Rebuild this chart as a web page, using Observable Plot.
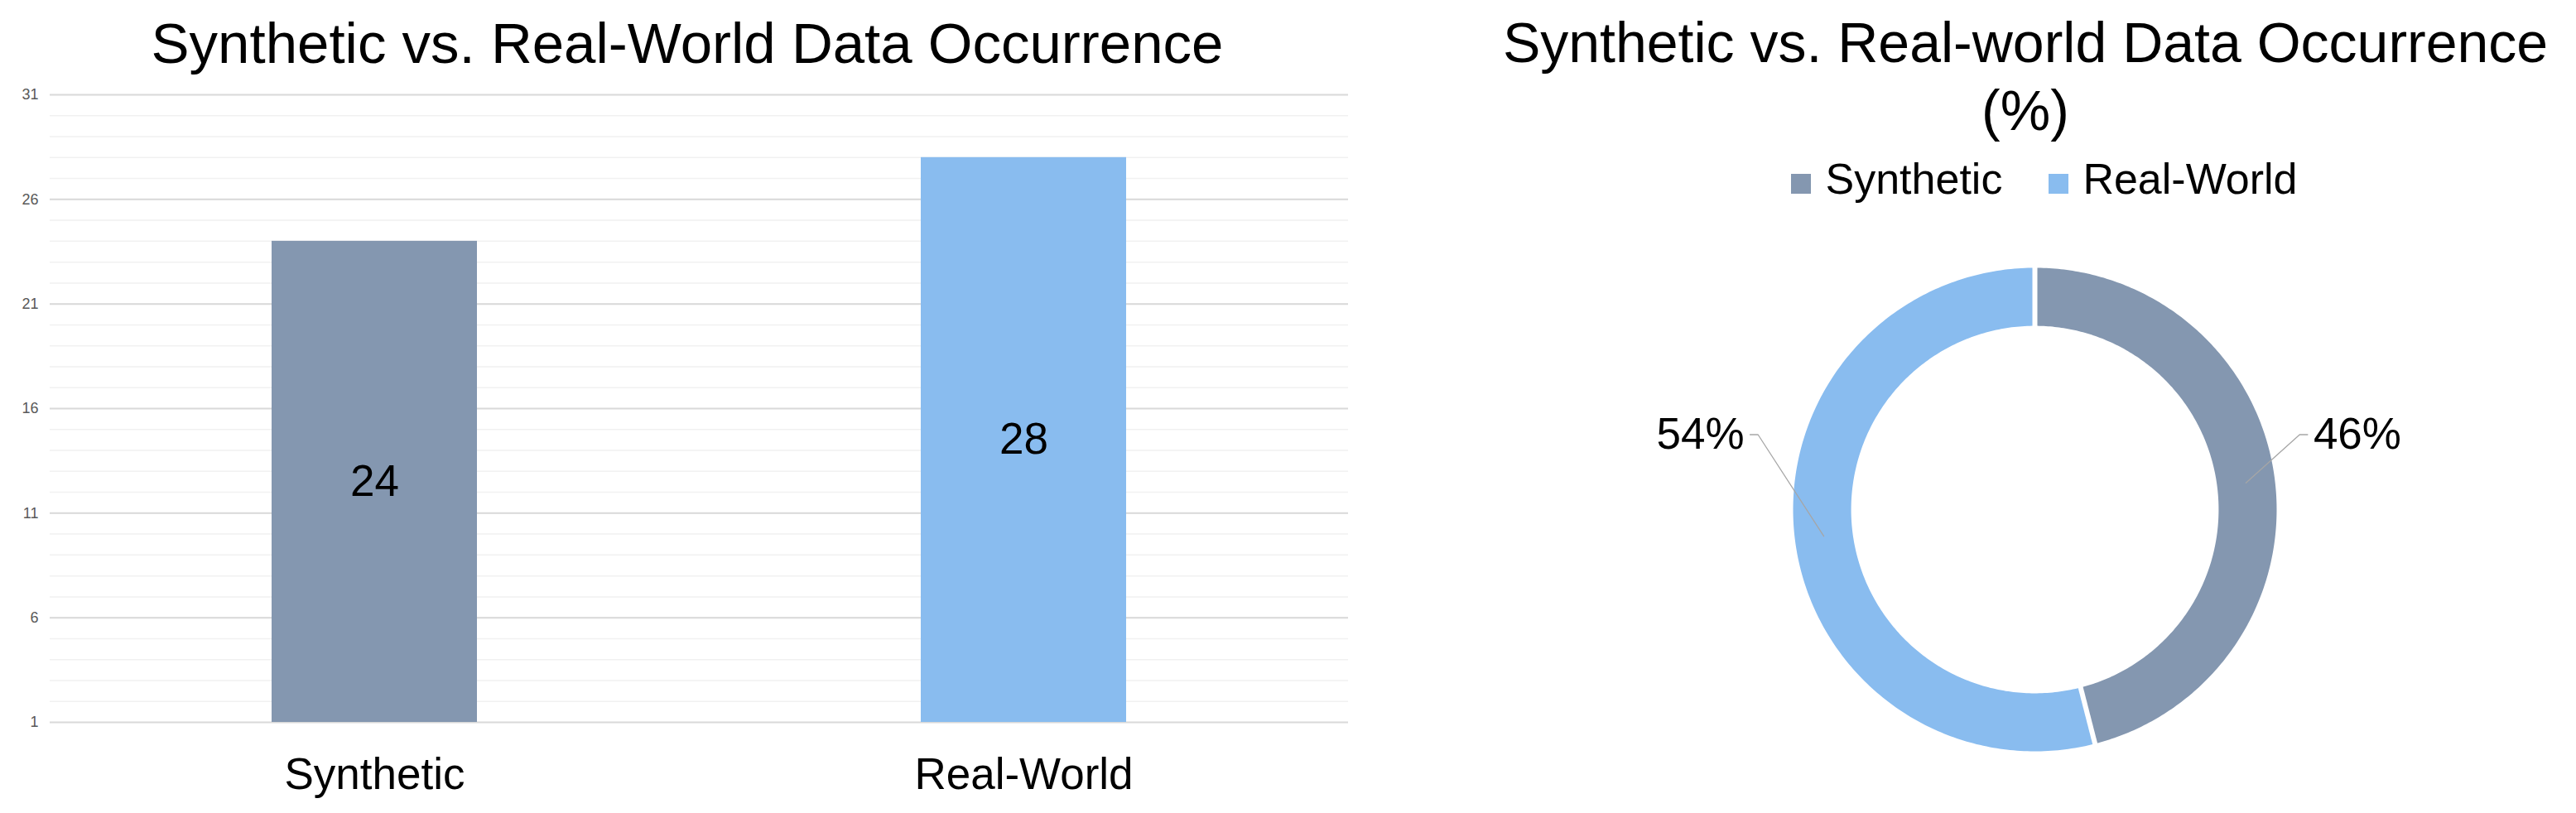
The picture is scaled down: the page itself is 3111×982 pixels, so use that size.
<!DOCTYPE html>
<html>
<head>
<meta charset="utf-8">
<script src="https://cdn.jsdelivr.net/npm/d3@7"></script>
<script src="https://cdn.jsdelivr.net/npm/@observablehq/plot@0.6"></script>
<style>
html, body { margin: 0; padding: 0; background: #fff; }
body { width: 3111px; height: 982px; position: relative; overflow: hidden; font-family: "Liberation Sans", Arial, sans-serif; }
.abs { position: absolute; }
.title { font-size: 68px; color: #000; white-space: pre; text-align: center; }
#legend { display: flex; justify-content: center; align-items: baseline; font-size: 52px; line-height: 52px; color: #000; white-space: pre; }
#legend .item { display: inline-block; }
#legend .item + .item { margin-left: 56px; }
#legend .sw { display: inline-block; width: 24px; height: 24px; margin-right: 17px; vertical-align: baseline; }
</style>
</head>
<body>
<div id="bar" class="abs" style="left:0;top:0;width:1660px;height:982px"></div>
<div id="donut" class="abs" style="left:1957px;top:265px;width:1000px;height:700px"></div>
<div class="abs title" style="left:0;top:18px;width:1660px;line-height:69px;font-size:69px">Synthetic vs. Real-World Data Occurrence</div>
<div class="abs title" style="left:1646px;top:10px;width:1600px;line-height:82px">Synthetic vs. Real-world Data Occurrence<br>(%)</div>
<div id="legend" class="abs" style="left:1869px;top:190px;width:1200px"></div>
<script>
// ---- data ----
const categories = ["Synthetic", "Real-World"];
const counts = [24, 28];
const shares = [46, 54];
const yTicks = [1, 6, 11, 16, 21, 26, 31];
const colors = ["#8497B0", "#89BCEF"];

const FONT = "'Liberation Sans', Arial, sans-serif";

// ---- bar chart ----
const bars = categories.map((c, i) => ({category: c, count: counts[i]}));
const yMin = yTicks[0], yMax = yTicks[yTicks.length - 1];
const minor = d3.range(yMin, yMax + 1);

const barPlot = Plot.plot({
  width: 1660, height: 982,
  marginTop: 114, marginBottom: 110, marginLeft: 60, marginRight: 32,
  style: {fontFamily: FONT, background: "transparent", overflow: "visible"},
  x: {domain: categories, paddingInner: 0.684, paddingOuter: 0.342},
  y: {domain: [yMin, yMax]},
  color: {domain: categories, range: colors},
  marks: [
    Plot.ruleY(minor, {stroke: "#f1f1f1", strokeWidth: 1.5}),
    Plot.ruleY(yTicks, {stroke: "#d9d9d9", strokeWidth: 2}),
    Plot.barY(bars, {x: "category", y1: yMin, y2: "count", fill: "category"}),
    Plot.text(bars, {x: "category", y: d => (yMin + d.count) / 2, text: d => String(d.count), fontSize: 53, fill: "black"}),
    Plot.axisX({tickSize: 0, tickPadding: 43, fontSize: 53, color: "black", label: null}),
    Plot.axisY({ticks: yTicks, tickSize: 0, tickPadding: 14, fontSize: 18, color: "#595959", label: null})
  ]
});
document.getElementById("bar").append(barPlot);

// ---- donut chart ----
const TAU = 2 * Math.PI;
const total = d3.sum(shares);
let acc = 0;
const slices = categories.map((c, i) => {
  const a0 = acc / total * TAU;
  acc += shares[i];
  const a1 = acc / total * TAU;
  return {category: c, share: shares[i], a0, a1, mid: (a0 + a1) / 2, color: colors[i]};
});
const R0 = 0.76, R1 = 1, RM = (R0 + R1) / 2;
const px = (r, a) => r * Math.sin(a);
const py = (r, a) => r * Math.cos(a);

function ring(s) {
  const n = 240, pts = [];
  for (let k = 0; k <= n; k++) { const a = s.a0 + (s.a1 - s.a0) * k / n; pts.push({x: px(R1, a), y: py(R1, a)}); }
  for (let k = n; k >= 0; k--) { const a = s.a0 + (s.a1 - s.a0) * k / n; pts.push({x: px(R0, a), y: py(R0, a)}); }
  return pts;
}

// leader layout: anchor on mid ring, elbow outside, short horizontal tail
const ELBOW_X = 1.12, ELBOW_Y = 0.31, TAIL = 0.033, GAP = 0.024, SHIFT = -0.025;
const leaders = [];
slices.forEach(s => {
  const side = Math.sin(s.mid) >= 0 ? 1 : -1;
  s.side = side;
  s.lx = side * (ELBOW_X + TAIL + GAP) + SHIFT;
  leaders.push({category: s.category, x: px(RM, s.mid), y: py(RM, s.mid)});
  leaders.push({category: s.category, x: side * ELBOW_X + SHIFT, y: ELBOW_Y});
  leaders.push({category: s.category, x: side * (ELBOW_X + TAIL) + SHIFT, y: ELBOW_Y});
});

const K = 292;
const donutPlot = Plot.plot({
  width: 1000, height: 700, margin: 0,
  x: {domain: [-500 / K, 500 / K], axis: null},
  y: {domain: [-350 / K, 350 / K], axis: null},
  style: {fontFamily: FONT, background: "transparent", overflow: "visible"},
  marks: [
    ...slices.map(s => Plot.line(ring(s), {x: "x", y: "y", fill: s.color, stroke: "none", curve: "linear-closed"})),
    Plot.link(slices, {
      x1: s => px(R0 - 0.02, s.a0), y1: s => py(R0 - 0.02, s.a0),
      x2: s => px(R1 + 0.03, s.a0), y2: s => py(R1 + 0.03, s.a0),
      stroke: "white", strokeWidth: 6
    }),
    Plot.line(leaders, {x: "x", y: "y", z: "category", stroke: "#a6a6a6", strokeWidth: 1.3}),
    Plot.text(slices.filter(s => s.side > 0), {x: "lx", y: () => ELBOW_Y, text: s => s.share + "%", textAnchor: "start", fontSize: 53, fill: "black"}),
    Plot.text(slices.filter(s => s.side < 0), {x: "lx", y: () => ELBOW_Y, text: s => s.share + "%", textAnchor: "end", fontSize: 53, fill: "black"})
  ]
});
document.getElementById("donut").append(donutPlot);

// ---- legend ----
const legend = document.getElementById("legend");
categories.forEach((c, i) => {
  const item = document.createElement("span");
  item.className = "item";
  const sw = document.createElement("span");
  sw.className = "sw";
  sw.style.background = colors[i];
  item.append(sw, document.createTextNode(c));
  legend.append(item);
});
</script>
</body>
</html>
